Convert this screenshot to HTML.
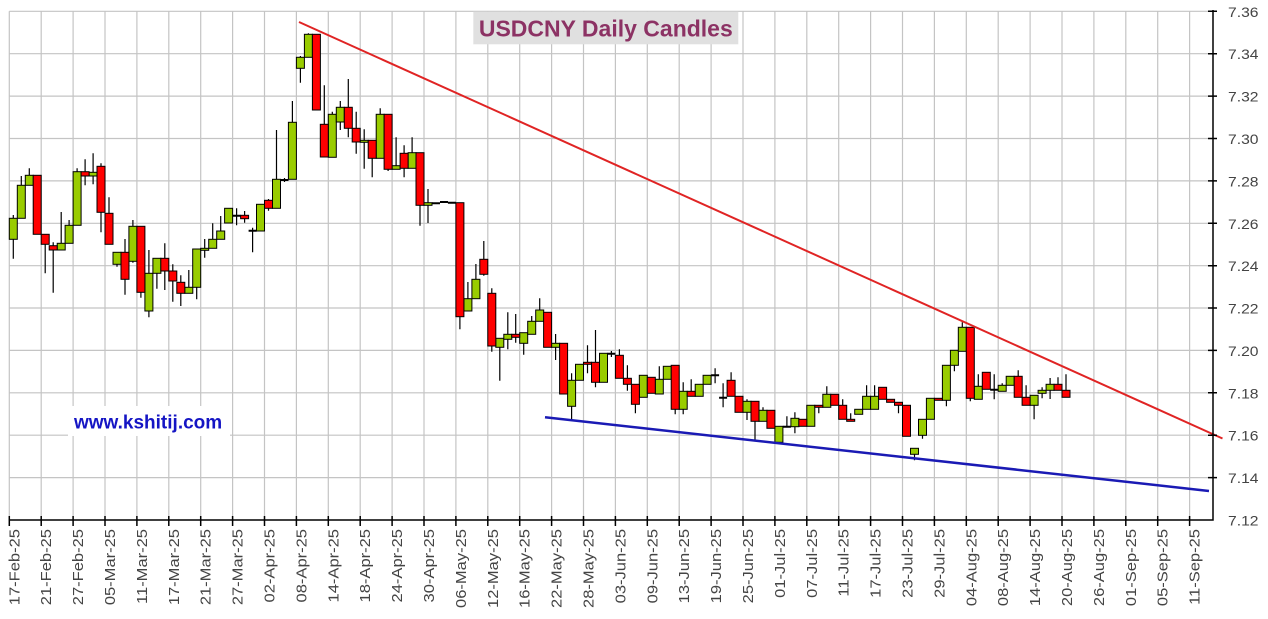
<!DOCTYPE html>
<html><head><meta charset="utf-8"><style>
html,body{margin:0;padding:0;background:#fff;}
svg{display:block;}
.xl{font-family:"Liberation Sans",sans-serif;font-size:14.5px;fill:#444;}
.yl{font-family:"Liberation Sans",sans-serif;font-size:14px;fill:#444;}
.g{fill:#99cc00;stroke:#000;stroke-width:1;}
.r{fill:#ff0000;stroke:#000;stroke-width:1;}
</style></head><body>
<svg width="1268" height="619" viewBox="0 0 1268 619" xmlns="http://www.w3.org/2000/svg">
<rect width="1268" height="619" fill="#fff"/>
<g stroke="#c4c4c4" stroke-width="1.2" fill="none">
<path d="M9.3 11.3H1213M9.3 53.7H1213M9.3 96.1H1213M9.3 138.5H1213M9.3 180.9H1213M9.3 223.3H1213M9.3 265.7H1213M9.3 308H1213M9.3 350.4H1213M9.3 392.8H1213M9.3 435.2H1213M9.3 477.6H1213"/>
<path d="M9.3 11.3V520M41.2 11.3V520M73.1 11.3V520M105 11.3V520M136.9 11.3V520M168.8 11.3V520M200.7 11.3V520M232.6 11.3V520M264.5 11.3V520M296.4 11.3V520M328.3 11.3V520M360.2 11.3V520M392.1 11.3V520M424 11.3V520M455.9 11.3V520M487.8 11.3V520M519.7 11.3V520M551.6 11.3V520M583.5 11.3V520M615.4 11.3V520M647.3 11.3V520M679.2 11.3V520M711.1 11.3V520M743 11.3V520M774.9 11.3V520M806.8 11.3V520M838.7 11.3V520M870.6 11.3V520M902.5 11.3V520M934.4 11.3V520M966.3 11.3V520M998.2 11.3V520M1030.1 11.3V520M1062 11.3V520M1093.9 11.3V520M1125.8 11.3V520M1157.7 11.3V520M1189.6 11.3V520"/>
</g>
<rect x="473.3" y="11.7" width="265" height="32.6" fill="#e0e0e0"/>
<text x="605.8" y="36.5" text-anchor="middle" font-family="Liberation Sans, sans-serif" font-weight="bold" font-size="23" fill="#8c3264">USDCNY Daily Candles</text>
<rect x="68" y="406" width="162" height="30" fill="#fff"/>
<text x="74" y="428.3" font-family="Liberation Sans, sans-serif" font-weight="bold" font-size="19" fill="#1515c4">www.kshitij.com</text>

<path fill="none" stroke="#000" stroke-width="1.2" d="M13.3 215V258.7M21.3 176V218.3M29.3 168.3V185.3M45.2 234.3V273.3M53.2 242.3V292.7M61.2 212V250M69.1 220V243.3M77.1 168.3V225.3M85.1 159.3V185.3M93.1 153.3V184.3M101 163.3V232.3M109 197.3V244.3M117 252.3V266.7M125 239V294.7M132.9 220V262.7M140.9 226.3V297.7M148.9 250V317.3M156.9 258.3V288.7M164.8 243.3V290M172.8 264.3V301.7M180.8 275.3V306M188.8 270V293.3M196.7 249V299.3M204.7 239V257.7M212.7 223.3V248.3M220.7 216V239.3M236.6 208.3V225.3M244.6 211V222.7M252.6 227.7V252.3M268.5 199V210.7M276.5 130V208.3M284.5 178V182M292.4 101V179.3M300.4 56V82.7M308.4 33.3V57.3M324.3 85.3V157M332.3 111.7V157.3M340.3 101V130M348.3 79V137.3M356.2 111.7V153.7M364.2 129.3V168.7M372.2 140.3V177.3M380.2 108.3V158.3M388.1 114.3V171M396.1 137.3V169.3M404.1 145.3V177.3M412.1 137.3V168.3M420 152.7V225.7M428 189V223M459.9 202.7V329.3M467.9 282V311M475.9 264V298.7M483.8 241V275.7M491.8 288.3V351.7M499.8 338.3V380.7M507.8 312.3V349.3M515.7 314V342.7M523.7 332.7V354.7M531.7 316V334.3M539.7 298.3V321.3M555.6 334V360M571.6 373.3V420M587.5 345.3V373.3M595.5 330V387.3M611.4 351V357M619.4 349.3V378.3M627.4 365.3V390.7M635.4 384.3V413.3M659.3 366.3V394M675.2 365.3V414.3M683.2 382.3V414.3M691.2 379.3V396.3M715.1 368.3V383.3M723.1 383.3V407.3M731.1 372.3V396.3M747 399.3V420M755 401.3V441.3M763 407.3V421.3M786.9 416.3V426.7M794.9 412.3V433.3M818.8 405.3V413.3M826.8 386.3V407.3M842.7 399.3V419.3M850.7 413.3V421.3M866.6 385.3V409.3M874.6 385.3V409.3M898.5 402.3V413.3M914.5 448.3V460.3M922.5 419.3V438.7M946.4 365.3V406.3M954.4 350.3V371.3M962.3 322.3V351.3M970.3 327.3V401.3M978.3 374.3V399.3M994.2 374.3V399.3M1002.2 383.3V391.3M1018.2 370.3V397.3M1026.1 385.3V405.3M1034.1 395.3V419.3M1042.1 387.3V398.3M1050.1 378V399M1058 377.3V390.3M1066 374.3V397.3"/>

<g class="g">
<rect x="9.3" y="218.3" width="8" height="21"/>
<rect x="17.3" y="185.3" width="8" height="33"/>
<rect x="25.3" y="175.3" width="8" height="10"/>
<rect x="57.2" y="243.3" width="8" height="6.7"/>
<rect x="65.1" y="225.3" width="8" height="18"/>
<rect x="73.1" y="171.7" width="8" height="53.6"/>
<rect x="89.1" y="172.3" width="8" height="3.7"/>
<rect x="113" y="252.3" width="8" height="12"/>
<rect x="128.9" y="226.3" width="8" height="35"/>
<rect x="144.9" y="273.3" width="8" height="37.7"/>
<rect x="152.9" y="258.3" width="8" height="15"/>
<rect x="184.8" y="287.3" width="8" height="6"/>
<rect x="192.7" y="249" width="8" height="38.3"/>
<rect x="200.7" y="248.3" width="8" height="2"/>
<rect x="208.7" y="239.3" width="8" height="9"/>
<rect x="216.7" y="231" width="8" height="8.3"/>
<rect x="224.6" y="208.3" width="8" height="14.7"/>
<rect x="256.5" y="204.3" width="8" height="26.7"/>
<rect x="272.5" y="179.3" width="8" height="29"/>
<rect x="288.4" y="122.3" width="8" height="57"/>
<rect x="296.4" y="57.3" width="8" height="11"/>
<rect x="304.4" y="34.3" width="8" height="23"/>
<rect x="328.3" y="114.3" width="8" height="43"/>
<rect x="336.3" y="107.3" width="8" height="14.7"/>
<rect x="360.2" y="140.3" width="8" height="2"/>
<rect x="376.2" y="114.3" width="8" height="44"/>
<rect x="392.1" y="165.7" width="8" height="3.6"/>
<rect x="408.1" y="152.7" width="8" height="15.6"/>
<rect x="424" y="202.7" width="8" height="2.6"/>
<rect x="463.9" y="298.7" width="8" height="12.3"/>
<rect x="471.9" y="279.3" width="8" height="19.4"/>
<rect x="495.8" y="338.3" width="8" height="9"/>
<rect x="503.8" y="334.3" width="8" height="5"/>
<rect x="519.7" y="332.7" width="8" height="10.6"/>
<rect x="527.7" y="321.3" width="8" height="13"/>
<rect x="535.7" y="310" width="8" height="11.3"/>
<rect x="551.6" y="343.3" width="8" height="4"/>
<rect x="567.6" y="380.3" width="8" height="26"/>
<rect x="575.5" y="364.3" width="8" height="16"/>
<rect x="599.5" y="353.3" width="8" height="29"/>
<rect x="639.3" y="375.3" width="8" height="22"/>
<rect x="655.3" y="379.3" width="8" height="14.7"/>
<rect x="663.3" y="366.3" width="8" height="13"/>
<rect x="679.2" y="391.3" width="8" height="18"/>
<rect x="695.2" y="384.3" width="8" height="12"/>
<rect x="703.1" y="375.3" width="8" height="9"/>
<rect x="743" y="401.3" width="8" height="11"/>
<rect x="759" y="410.3" width="8" height="11"/>
<rect x="774.9" y="426.3" width="8" height="16"/>
<rect x="790.9" y="418.3" width="8" height="8.4"/>
<rect x="806.8" y="405.3" width="8" height="21"/>
<rect x="822.8" y="394.3" width="8" height="13"/>
<rect x="854.7" y="409.3" width="8" height="5"/>
<rect x="862.6" y="396.3" width="8" height="13"/>
<rect x="870.6" y="396.3" width="8" height="13"/>
<rect x="910.5" y="448.3" width="8" height="6"/>
<rect x="918.5" y="419.3" width="8" height="16"/>
<rect x="926.4" y="398.3" width="8" height="21"/>
<rect x="942.4" y="365.3" width="8" height="35"/>
<rect x="950.4" y="350.3" width="8" height="15"/>
<rect x="958.3" y="327.3" width="8" height="24"/>
<rect x="974.3" y="386.3" width="8" height="13"/>
<rect x="998.2" y="385.3" width="8" height="6"/>
<rect x="1006.2" y="376.3" width="8" height="9"/>
<rect x="1030.1" y="395.3" width="8" height="10"/>
<rect x="1038.1" y="390.3" width="8" height="3"/>
<rect x="1046.1" y="384.3" width="8" height="6"/>
</g>
<g class="r">
<rect x="33.2" y="175.3" width="8" height="59"/>
<rect x="41.2" y="234.3" width="8" height="10"/>
<rect x="49.2" y="245.7" width="8" height="4.3"/>
<rect x="81.1" y="171.7" width="8" height="4.3"/>
<rect x="97" y="166.3" width="8" height="46"/>
<rect x="105" y="213.3" width="8" height="31"/>
<rect x="121" y="252.3" width="8" height="27"/>
<rect x="136.9" y="226.3" width="8" height="66"/>
<rect x="160.8" y="258.3" width="8" height="12.7"/>
<rect x="168.8" y="271" width="8" height="10"/>
<rect x="176.8" y="282.3" width="8" height="11"/>
<rect x="240.6" y="215.3" width="8" height="3.4"/>
<rect x="264.5" y="200.3" width="8" height="8"/>
<rect x="312.4" y="34.3" width="8" height="75.7"/>
<rect x="320.3" y="124.3" width="8" height="32.7"/>
<rect x="344.3" y="107.3" width="8" height="21"/>
<rect x="352.2" y="128.3" width="8" height="13.7"/>
<rect x="368.2" y="140.3" width="8" height="18"/>
<rect x="384.1" y="114.3" width="8" height="55"/>
<rect x="400.1" y="153.3" width="8" height="15"/>
<rect x="416" y="152.7" width="8" height="52.6"/>
<rect x="455.9" y="202.7" width="8" height="114"/>
<rect x="479.8" y="259.3" width="8" height="15"/>
<rect x="487.8" y="293.3" width="8" height="52.7"/>
<rect x="511.7" y="334.3" width="8" height="3"/>
<rect x="543.6" y="312.3" width="8" height="35"/>
<rect x="559.6" y="343.3" width="8" height="50.7"/>
<rect x="583.5" y="362.3" width="8" height="2"/>
<rect x="591.5" y="362.3" width="8" height="20"/>
<rect x="615.4" y="355.3" width="8" height="23"/>
<rect x="623.4" y="378.3" width="8" height="6"/>
<rect x="631.4" y="384.3" width="8" height="20"/>
<rect x="647.3" y="377.3" width="8" height="16"/>
<rect x="671.2" y="365.3" width="8" height="44"/>
<rect x="687.2" y="391.3" width="8" height="5"/>
<rect x="727.1" y="380.3" width="8" height="16"/>
<rect x="735" y="396.3" width="8" height="16"/>
<rect x="751" y="401.3" width="8" height="20"/>
<rect x="766.9" y="410.3" width="8" height="18"/>
<rect x="798.8" y="419.3" width="8" height="7"/>
<rect x="814.8" y="405.3" width="8" height="2"/>
<rect x="830.7" y="394.3" width="8" height="11"/>
<rect x="838.7" y="405.3" width="8" height="14"/>
<rect x="846.7" y="419.3" width="8" height="2"/>
<rect x="878.6" y="387.3" width="8" height="12"/>
<rect x="886.6" y="399.3" width="8" height="3"/>
<rect x="894.5" y="402.3" width="8" height="3"/>
<rect x="902.5" y="405.3" width="8" height="31"/>
<rect x="934.4" y="398.3" width="8" height="2"/>
<rect x="966.3" y="327.3" width="8" height="71"/>
<rect x="982.3" y="372.3" width="8" height="17"/>
<rect x="1014.2" y="376.3" width="8" height="21"/>
<rect x="1022.1" y="397.3" width="8" height="8"/>
<rect x="1054" y="384.3" width="8" height="6"/>
<rect x="1062" y="390.3" width="8" height="7"/>
</g>
<path fill="none" stroke="#000" stroke-width="2" d="M232.6 215.7h8M248.6 230.7h8M280.5 180h8M432 203.3h8M440 202h8M447.9 202.7h8M607.4 353.8h8M711.1 375.3h8M719.1 397.7h8M782.9 426.7h8M990.2 389.8h8"/>

<line x1="299" y1="22" x2="1222.5" y2="438.5" stroke="#e02424" stroke-width="2"/>
<line x1="545" y1="417.3" x2="1209" y2="491" stroke="#1a1ab4" stroke-width="2.5"/>

<g stroke="#000" stroke-width="1.5" fill="none">
<path d="M9 520H1213.5M1213 10V520.7"/>
<path d="M1208 11.3h9M1208 53.7h9M1208 96.1h9M1208 138.5h9M1208 180.9h9M1208 223.3h9M1208 265.7h9M1208 308h9M1208 350.4h9M1208 392.8h9M1208 435.2h9M1208 477.6h9"/>
<path d="M9.3 516v10M41.2 516v10M73.1 516v10M105 516v10M136.9 516v10M168.8 516v10M200.7 516v10M232.6 516v10M264.5 516v10M296.4 516v10M328.3 516v10M360.2 516v10M392.1 516v10M424 516v10M455.9 516v10M487.8 516v10M519.7 516v10M551.6 516v10M583.5 516v10M615.4 516v10M647.3 516v10M679.2 516v10M711.1 516v10M743 516v10M774.9 516v10M806.8 516v10M838.7 516v10M870.6 516v10M902.5 516v10M934.4 516v10M966.3 516v10M998.2 516v10M1030.1 516v10M1062 516v10M1093.9 516v10M1125.8 516v10M1157.7 516v10M1189.6 516v10"/>
</g>

<g class="yl">
<text transform="translate(1228,16.8) scale(1.12,1)">7.36</text>
<text transform="translate(1228,59.2) scale(1.12,1)">7.34</text>
<text transform="translate(1228,101.6) scale(1.12,1)">7.32</text>
<text transform="translate(1228,144) scale(1.12,1)">7.30</text>
<text transform="translate(1228,186.4) scale(1.12,1)">7.28</text>
<text transform="translate(1228,228.8) scale(1.12,1)">7.26</text>
<text transform="translate(1228,271.2) scale(1.12,1)">7.24</text>
<text transform="translate(1228,313.5) scale(1.12,1)">7.22</text>
<text transform="translate(1228,355.9) scale(1.12,1)">7.20</text>
<text transform="translate(1228,398.3) scale(1.12,1)">7.18</text>
<text transform="translate(1228,440.7) scale(1.12,1)">7.16</text>
<text transform="translate(1228,483.1) scale(1.12,1)">7.14</text>
<text transform="translate(1228,525.5) scale(1.12,1)">7.12</text>
</g>

<g class="xl" text-anchor="end">
<text transform="translate(19.3,529) rotate(-90) scale(1.14,1)">17-Feb-25</text>
<text transform="translate(51.2,529) rotate(-90) scale(1.14,1)">21-Feb-25</text>
<text transform="translate(83.1,529) rotate(-90) scale(1.14,1)">27-Feb-25</text>
<text transform="translate(115,529) rotate(-90) scale(1.14,1)">05-Mar-25</text>
<text transform="translate(146.9,529) rotate(-90) scale(1.14,1)">11-Mar-25</text>
<text transform="translate(178.8,529) rotate(-90) scale(1.14,1)">17-Mar-25</text>
<text transform="translate(210.7,529) rotate(-90) scale(1.14,1)">21-Mar-25</text>
<text transform="translate(242.6,529) rotate(-90) scale(1.14,1)">27-Mar-25</text>
<text transform="translate(274.5,529) rotate(-90) scale(1.14,1)">02-Apr-25</text>
<text transform="translate(306.4,529) rotate(-90) scale(1.14,1)">08-Apr-25</text>
<text transform="translate(338.3,529) rotate(-90) scale(1.14,1)">14-Apr-25</text>
<text transform="translate(370.2,529) rotate(-90) scale(1.14,1)">18-Apr-25</text>
<text transform="translate(402.1,529) rotate(-90) scale(1.14,1)">24-Apr-25</text>
<text transform="translate(434,529) rotate(-90) scale(1.14,1)">30-Apr-25</text>
<text transform="translate(465.9,529) rotate(-90) scale(1.14,1)">06-May-25</text>
<text transform="translate(497.8,529) rotate(-90) scale(1.14,1)">12-May-25</text>
<text transform="translate(529.7,529) rotate(-90) scale(1.14,1)">16-May-25</text>
<text transform="translate(561.6,529) rotate(-90) scale(1.14,1)">22-May-25</text>
<text transform="translate(593.5,529) rotate(-90) scale(1.14,1)">28-May-25</text>
<text transform="translate(625.4,529) rotate(-90) scale(1.14,1)">03-Jun-25</text>
<text transform="translate(657.3,529) rotate(-90) scale(1.14,1)">09-Jun-25</text>
<text transform="translate(689.2,529) rotate(-90) scale(1.14,1)">13-Jun-25</text>
<text transform="translate(721.1,529) rotate(-90) scale(1.14,1)">19-Jun-25</text>
<text transform="translate(753,529) rotate(-90) scale(1.14,1)">25-Jun-25</text>
<text transform="translate(784.9,529) rotate(-90) scale(1.14,1)">01-Jul-25</text>
<text transform="translate(816.8,529) rotate(-90) scale(1.14,1)">07-Jul-25</text>
<text transform="translate(848.7,529) rotate(-90) scale(1.14,1)">11-Jul-25</text>
<text transform="translate(880.6,529) rotate(-90) scale(1.14,1)">17-Jul-25</text>
<text transform="translate(912.5,529) rotate(-90) scale(1.14,1)">23-Jul-25</text>
<text transform="translate(944.4,529) rotate(-90) scale(1.14,1)">29-Jul-25</text>
<text transform="translate(976.3,529) rotate(-90) scale(1.14,1)">04-Aug-25</text>
<text transform="translate(1008.2,529) rotate(-90) scale(1.14,1)">08-Aug-25</text>
<text transform="translate(1040.1,529) rotate(-90) scale(1.14,1)">14-Aug-25</text>
<text transform="translate(1072,529) rotate(-90) scale(1.14,1)">20-Aug-25</text>
<text transform="translate(1103.9,529) rotate(-90) scale(1.14,1)">26-Aug-25</text>
<text transform="translate(1135.8,529) rotate(-90) scale(1.14,1)">01-Sep-25</text>
<text transform="translate(1167.7,529) rotate(-90) scale(1.14,1)">05-Sep-25</text>
<text transform="translate(1199.6,529) rotate(-90) scale(1.14,1)">11-Sep-25</text>
</g>
</svg>
</body></html>
